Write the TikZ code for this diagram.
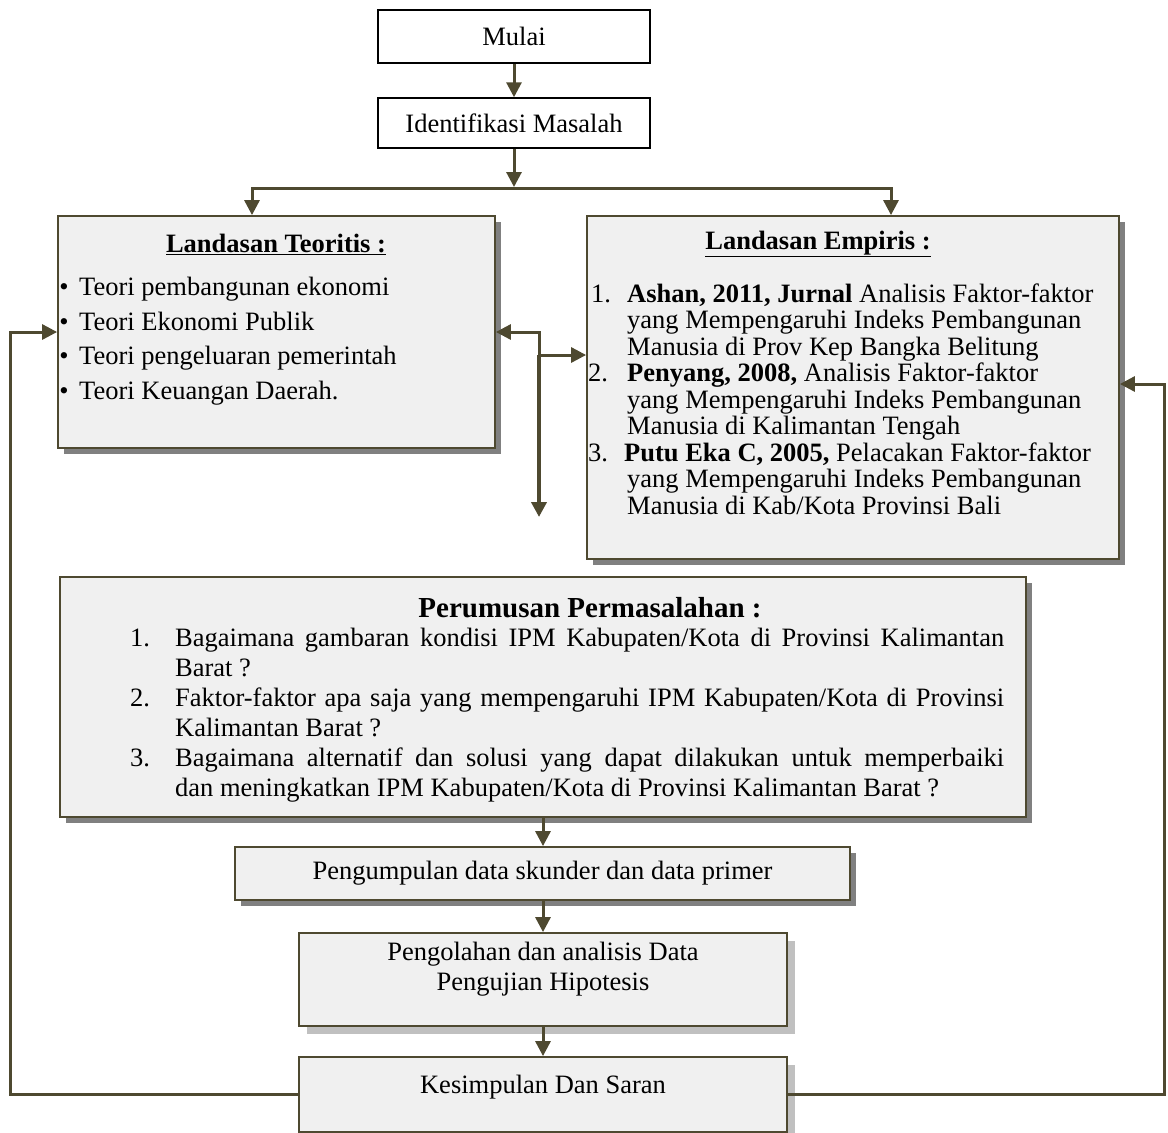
\documentclass[tikz,border=0pt]{standalone}
\usepackage{fontspec}
\setmainfont{Liberation Serif}
\usetikzlibrary{arrows.meta,shadows}
\definecolor{lineol}{RGB}{78,73,48}
\definecolor{boxfill}{RGB}{240,240,240}
\definecolor{shdark}{RGB}{128,128,128}
\definecolor{shlight}{RGB}{192,192,192}
\begin{document}
\begin{tikzpicture}[x=1pt,y=-1pt,
  every node/.style={font=\fontsize{26.5}{26.5}\selectfont, inner sep=0pt},
  bf/.style={font=\fontsize{26.5}{26.5}\selectfont\bfseries},
  bigbf/.style={font=\fontsize{29}{29}\selectfont\bfseries},
  plainbox/.style={draw=black, line width=1.5pt, fill=white},
  grbox/.style={draw=lineol, line width=1.8pt, fill=boxfill,
    drop shadow={shadow xshift=6pt, shadow yshift=-6pt, fill=shdark, opacity=1}},
  ltbox/.style={draw=lineol, line width=1.8pt, fill=boxfill,
    drop shadow={shadow xshift=8pt, shadow yshift=-8pt, fill=shlight, opacity=1}},
  conn/.style={draw=lineol, line width=3pt},
  arr/.style={conn, -{Triangle[length=15pt,width=15pt]}},
  txt/.style={anchor=base west},
]
\useasboundingbox (0,0) rectangle (1168,1133);

% ---- boxes ----
\node[plainbox, minimum width=272pt, minimum height=53pt] (mulai) at (514,36.5) {Mulai};
\node[plainbox, minimum width=272pt, minimum height=50pt] (ident) at (514,123) {Identifikasi Masalah};
\node[grbox, minimum width=437pt, minimum height=232pt] (teori) at (276.5,332) {};
\node[grbox, minimum width=532pt, minimum height=343pt] (empiris) at (853,387.5) {};
\node[grbox, minimum width=966pt, minimum height=240pt] (rumus) at (543,697) {};
\node[grbox, minimum width=615pt, minimum height=53pt] (kumpul) at (542.5,873.5) {Pengumpulan data skunder dan data primer};
\node[ltbox, minimum width=488pt, minimum height=93pt] (olah) at (543,979.5) {};
\node[ltbox, minimum width=488pt, minimum height=75pt] (simpul) at (543,1094.5) {};

% ---- Landasan Teoritis ----
\node[bf, anchor=base] (tt) at (276,252) {\underline{Landasan Teoritis :}};
\node[anchor=base] (tb1) at (64,295) {•};
\node[txt] (tl1) at (79,295) {Teori pembangunan ekonomi};
\node[anchor=base] (tb2) at (64,330) {•};
\node[txt] (tl2) at (79,330) {Teori Ekonomi Publik};
\node[anchor=base] (tb3) at (64,364) {•};
\node[txt] (tl3) at (79,364) {Teori pengeluaran pemerintah};
\node[anchor=base] (tb4) at (64,399) {•};
\node[txt] (tl4) at (79,399) {Teori Keuangan Daerah.};

% ---- Landasan Empiris ----
\node[bf, anchor=base] (et) at (818,249) {\underline{Landasan Empiris :}};
\node[txt] (en1) at (591,302) {1.};
\node[txt] (e11) at (627,302) {\textbf{Ashan, 2011, Jurnal} Analisis Faktor-faktor};
\node[txt] (e12) at (627,328.5) {yang Mempengaruhi Indeks Pembangunan};
\node[txt] (e13) at (627,355) {Manusia di Prov Kep Bangka Belitung};
\node[txt] (en2) at (588,381.5) {2.};
\node[txt] (e21) at (627,381.5) {\textbf{Penyang, 2008,} Analisis Faktor-faktor};
\node[txt] (e22) at (627,408) {yang Mempengaruhi Indeks Pembangunan};
\node[txt] (e23) at (627,434.5) {Manusia di Kalimantan Tengah};
\node[txt] (en3) at (588,461) {3.};
\node[txt] (e31) at (624,461) {\textbf{Putu Eka C, 2005,} Pelacakan Faktor-faktor};
\node[txt] (e32) at (627,487.5) {yang Mempengaruhi Indeks Pembangunan};
\node[txt] (e33) at (627,514) {Manusia di Kab/Kota Provinsi Bali};

% ---- Perumusan Permasalahan ----
\node[bigbf, anchor=base] (rt) at (590,617) {Perumusan Permasalahan :};
\node[txt] (rn1) at (130,646) {1.};
\node[txt] (r11) at (175,646) {\makebox[829pt][s]{Bagaimana gambaran kondisi IPM Kabupaten/Kota di Provinsi Kalimantan}};
\node[txt] (r12) at (175,676) {Barat ?};
\node[txt] (rn2) at (130,706) {2.};
\node[txt] (r21) at (175,706) {\makebox[829pt][s]{Faktor-faktor apa saja yang mempengaruhi IPM Kabupaten/Kota di Provinsi}};
\node[txt] (r22) at (175,736) {Kalimantan Barat ?};
\node[txt] (rn3) at (130,766) {3.};
\node[txt] (r31) at (175,766) {\makebox[829pt][s]{Bagaimana alternatif dan solusi yang dapat dilakukan untuk memperbaiki}};
\node[txt] (r32) at (175,796) {dan meningkatkan IPM Kabupaten/Kota di Provinsi Kalimantan Barat ?};

% ---- lower boxes text ----
\node[anchor=base] (o1) at (543,960) {Pengolahan dan analisis Data};
\node[anchor=base] (o2) at (543,990) {Pengujian Hipotesis};
\node[anchor=base] (s1) at (543,1093) {Kesimpulan Dan Saran};

% ---- connectors ----
\coordinate (jm) at (514,187);
\coordinate (jl) at (252,188);
\coordinate (jr) at (891,188);
\coordinate (da) at (539,332);
\coordinate (db) at (539,355);
\coordinate (dc) at (539,517);
\coordinate (fl) at (10,0);
\coordinate (fr) at (1164,0);
\coordinate (ein) at (0,384);

\draw[arr] (mulai.south) -- (ident.north);
\draw[arr] (ident.south) -- (jm);
\draw[arr] (jr) -- (jl) -- (jl |- teori.north);
\draw[arr] (jl) -- (jr) -- (jr |- empiris.north);
\draw[arr] (db) -- (da) -- (teori.east);
\draw[arr] (db) -- (empiris.west |- db);
\draw[arr, line width=4.5pt] (db) -- (dc);
\draw[arr] (simpul.west) -| (fl |- teori.west) -- (teori.west);
\draw[arr] (simpul.east) -| (fr |- ein) -- (empiris.east |- ein);
\draw[arr] (rumus.south) -- (rumus.south |- kumpul.north);
\draw[arr] (kumpul.south -| olah.north) -- (olah.north);
\draw[arr] (olah.south) -- (simpul.north);
\end{tikzpicture}
\end{document}
